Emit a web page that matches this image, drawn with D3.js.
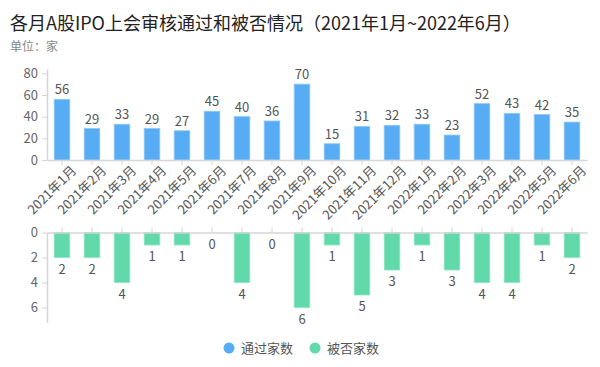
<!DOCTYPE html>
<html lang="zh">
<head>
<meta charset="UTF-8">
<title>IPO</title>
<style>
  body { margin: 0; background: #fff; }
  text { font-family: "Noto Sans CJK SC", "Noto Sans", sans-serif; }
</style>
</head>
<body>
<script src="https://cdn.jsdelivr.net/npm/d3@7"></script>
<div id="chart"></div>
<script>
// data
var months = ["2021年1月","2021年2月","2021年3月","2021年4月","2021年5月","2021年6月",
  "2021年7月","2021年8月","2021年9月","2021年10月","2021年11月","2021年12月",
  "2022年1月","2022年2月","2022年3月","2022年4月","2022年5月","2022年6月"];
var passed = [56, 29, 33, 29, 27, 45, 40, 36, 70, 15, 31, 32, 33, 23, 52, 43, 42, 35];
var rejected = [2, 2, 4, 1, 1, 0, 4, 0, 6, 1, 5, 3, 1, 3, 4, 4, 1, 2];
var topTicks = [0, 20, 40, 60, 80];
var bottomTicks = [0, 2, 4, 6];
var seriesNames = ["通过家数", "被否家数"];

var width = 600, height = 367;
var blue = "#58acf4", green = "#62d9aa";

var svg = d3.select("#chart").append("svg")
  .attr("width", width)
  .attr("height", height);

// titles
svg.append("text")
  .attr("x", 10).attr("y", 30)
  .style("font-size", "18px")
  .style("fill", "#222")
  .text("各月A股IPO上会审核通过和被否情况（2021年1月~2022年6月）");
svg.append("text")
  .attr("x", 10).attr("y", 51)
  .style("font-size", "12px")
  .style("fill", "#888")
  .text("单位：家");

var x = d3.scaleBand()
  .domain(months)
  .range([47, 587])
  .paddingInner(0.48)
  .paddingOuter(0.24);

var yTop = d3.scaleLinear().domain([0, 84]).range([160, 69]);
var yBot = d3.scaleLinear().domain([0, 7.2]).range([232.5, 322.5]);

var axisColor = "#d6d6d6", labelColor = "#666";

function styleAxis(g) {
  g.selectAll(".domain").attr("stroke", axisColor).attr("stroke-width", 1.5);
  g.selectAll(".tick line").attr("stroke", axisColor);
  g.selectAll(".tick text").style("fill", labelColor)
    .style("font-size", "13px")
    .style("font-family", "'Noto Sans CJK SC', sans-serif");
}

// ---- top chart ----
var gTopY = svg.append("g")
  .attr("transform", "translate(47,0)")
  .call(d3.axisLeft(yTop).tickValues(topTicks).tickSize(5).tickSizeOuter(0).tickPadding(4));
styleAxis(gTopY);

svg.selectAll(".barTop")
  .data(passed)
  .enter().append("rect")
  .attr("class", "barTop")
  .attr("x", function(d, i) { return x(months[i]); })
  .attr("width", x.bandwidth())
  .attr("y", function(d) { return yTop(d); })
  .attr("height", function(d) { return yTop(0) - yTop(d); })
  .attr("fill", blue)
  .attr("stroke", "#8cc8f8")
  .attr("stroke-width", 0.8);

svg.selectAll(".lblTop")
  .data(passed)
  .enter().append("text")
  .attr("class", "lblTop")
  .attr("x", function(d, i) { return x(months[i]) + x.bandwidth() / 2; })
  .attr("y", function(d) { return yTop(d) - 5; })
  .attr("text-anchor", "middle")
  .style("font-size", "13px")
  .style("fill", "#555")
  .text(function(d) { return d; });

var gTopX = svg.append("g")
  .attr("transform", "translate(0,160)")
  .call(d3.axisBottom(x).tickSize(5).tickSizeOuter(0).tickPadding(4));
styleAxis(gTopX);
gTopX.selectAll(".tick text")
  .style("font-size", "13px")
  .style("fill", "#555")
  .attr("text-anchor", "end")
  .attr("dx", "0.2em")
  .attr("dy", "0.75em")
  .attr("transform", "rotate(-45)");

// ---- bottom chart ----
var gBotY = svg.append("g")
  .attr("transform", "translate(47,0)")
  .call(d3.axisLeft(yBot).tickValues(bottomTicks).tickSize(5).tickSizeOuter(0).tickPadding(4));
styleAxis(gBotY);

svg.selectAll(".barBot")
  .data(rejected)
  .enter().append("rect")
  .attr("class", "barBot")
  .attr("x", function(d, i) { return x(months[i]); })
  .attr("width", x.bandwidth())
  .attr("y", yBot(0))
  .attr("height", function(d) { return yBot(d) - yBot(0); })
  .attr("fill", green)
  .attr("stroke", function(d) { return d > 0 ? "#8ee6c4" : "none"; })
  .attr("stroke-width", 0.8);

svg.selectAll(".lblBot")
  .data(rejected)
  .enter().append("text")
  .attr("class", "lblBot")
  .attr("x", function(d, i) { return x(months[i]) + x.bandwidth() / 2; })
  .attr("y", function(d) { return yBot(d) + 16; })
  .attr("text-anchor", "middle")
  .style("font-size", "13px")
  .style("fill", "#555")
  .text(function(d) { return d; });

var gBotX = svg.append("g")
  .attr("transform", "translate(0," + yBot(0) + ")")
  .call(d3.axisTop(x).tickSize(5).tickSizeOuter(0).tickFormat(""));
styleAxis(gBotX);

// ---- legend ----
var legendX = [229, 315];
var legend = svg.selectAll(".legend")
  .data(seriesNames)
  .enter().append("g")
  .attr("class", "legend")
  .attr("transform", function(d, i) { return "translate(" + legendX[i] + ",348)"; });
legend.append("circle")
  .attr("r", 5.5)
  .attr("fill", function(d, i) { return i === 0 ? blue : green; });
legend.append("text")
  .attr("x", 12)
  .attr("dy", "0.35em")
  .style("font-size", "13px")
  .style("fill", "#555")
  .text(function(d) { return d; });
</script>
</body>
</html>
